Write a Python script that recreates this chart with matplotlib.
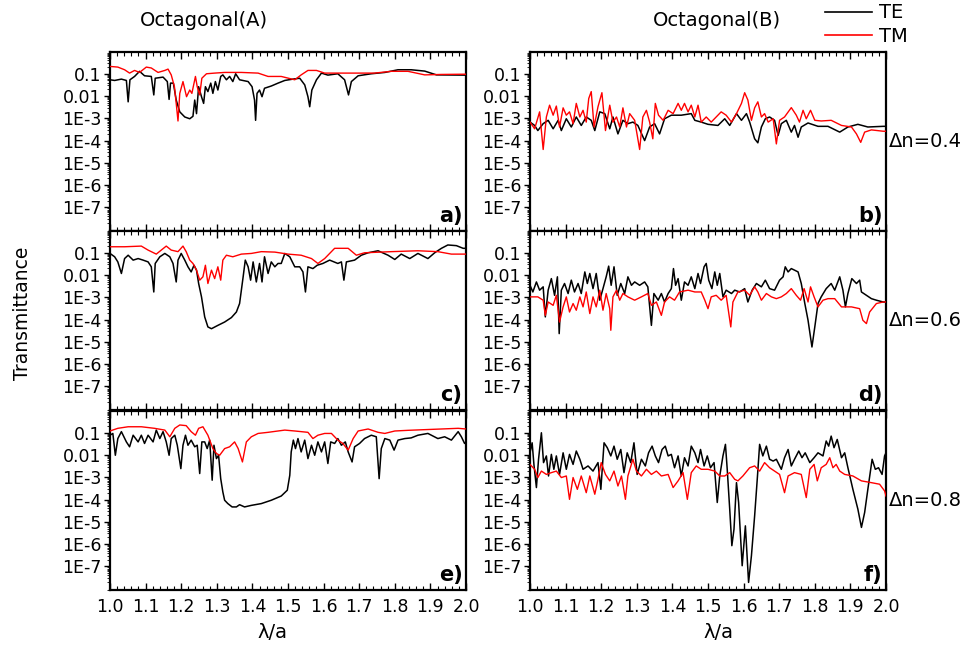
import numpy as np
import matplotlib
matplotlib.use("Agg")
import matplotlib.pyplot as plt
from matplotlib.lines import Line2D
from matplotlib.ticker import FixedLocator, FixedFormatter, LogLocator, MultipleLocator, NullFormatter

plt.rcParams['font.family'] = ['DejaVu Sans']

# ---------------- data (lambda/a, log10 transmittance) ----------------
# Panel a) Octagonal(A), dn=0.4
te_a_x = [1.000, 1.013, 1.032, 1.046, 1.051, 1.056, 1.069, 1.083, 1.097, 1.116, 1.123, 1.127, 1.149, 1.161, 1.166,
          1.170, 1.178, 1.186, 1.196, 1.210, 1.224, 1.233, 1.238, 1.243, 1.249, 1.257, 1.263, 1.268, 1.275, 1.283,
          1.289, 1.296, 1.303, 1.311, 1.317, 1.327, 1.336, 1.345, 1.353, 1.364, 1.388, 1.399, 1.406, 1.409, 1.413,
          1.420, 1.427, 1.434, 1.453, 1.472, 1.491, 1.514, 1.533, 1.547, 1.556, 1.561, 1.567, 1.580, 1.594, 1.612,
          1.640, 1.659, 1.670, 1.678, 1.697, 1.734, 1.772, 1.809, 1.846, 1.884, 1.917, 1.992, 2.000]
te_a_log = [-1.27, -1.30, -1.24, -1.30, -2.26, -1.27, -1.12, -0.89, -1.09, -1.12, -1.95, -1.20, -1.15, -1.35, -2.15,
            -1.42, -1.42, -2.18, -2.71, -2.94, -3.02, -2.91, -2.18, -2.79, -1.58, -2.03, -2.33, -1.58, -1.80, -1.42,
            -1.88, -1.35, -1.73, -1.12, -1.05, -1.27, -1.12, -1.35, -1.00, -1.27, -1.35, -1.58, -2.18, -3.09, -1.88,
            -1.73, -2.03, -1.65, -1.55, -1.42, -1.30, -1.24, -1.20, -1.50, -2.03, -2.48, -1.73, -1.27, -0.97, -1.06,
            -1.00, -1.27, -1.95, -1.35, -1.09, -1.00, -0.94, -0.82, -0.82, -0.88, -1.05, -1.06, -1.06]
tm_a_x = [1.000, 1.022, 1.041, 1.055, 1.069, 1.083, 1.102, 1.116, 1.135, 1.154, 1.163, 1.172, 1.181, 1.186, 1.191,
          1.196, 1.205, 1.215, 1.224, 1.230, 1.240, 1.245, 1.252, 1.258, 1.271, 1.294, 1.322, 1.369, 1.416, 1.444,
          1.481, 1.519, 1.537, 1.556, 1.580, 1.603, 1.650, 1.743, 1.790, 1.837, 1.884, 1.931, 1.992, 2.000]
tm_a_log = [-0.67, -0.70, -0.82, -0.97, -0.85, -0.94, -0.70, -0.74, -0.94, -0.85, -0.79, -1.05, -1.58, -2.33, -3.12,
            -1.88, -1.35, -2.03, -1.73, -1.88, -1.12, -1.58, -1.95, -1.20, -1.00, -0.97, -0.94, -0.94, -0.97, -1.12,
            -1.12, -1.27, -1.05, -0.85, -0.85, -0.97, -0.97, -0.97, -0.89, -0.89, -1.05, -1.03, -1.02, -1.02]

# Panel b) Octagonal(B), dn=0.4
te_b_x = [1.000, 1.013, 1.022, 1.037, 1.051, 1.065, 1.079, 1.088, 1.102, 1.116, 1.130, 1.144, 1.158, 1.172, 1.182,
          1.196, 1.210, 1.224, 1.233, 1.247, 1.261, 1.275, 1.289, 1.303, 1.322, 1.336, 1.350, 1.364, 1.378, 1.397,
          1.425, 1.453, 1.463, 1.481, 1.500, 1.528, 1.547, 1.561, 1.580, 1.594, 1.608, 1.617, 1.631, 1.640, 1.650,
          1.661, 1.673, 1.687, 1.697, 1.706, 1.720, 1.734, 1.743, 1.753, 1.762, 1.781, 1.809, 1.837, 1.870, 1.893,
          1.921, 1.949, 1.992, 2.000]
te_b_log = [-3.17, -3.32, -3.55, -3.24, -3.09, -3.47, -3.09, -3.55, -3.02, -3.39, -2.94, -3.32, -2.94, -3.09, -3.55,
            -2.71, -2.79, -3.47, -2.94, -3.70, -3.09, -3.24, -3.17, -3.32, -4.00, -3.39, -3.24, -3.70, -3.02, -2.86,
            -2.86, -2.79, -3.09, -3.17, -3.27, -3.32, -3.02, -3.32, -2.79, -3.09, -2.79, -3.17, -3.92, -4.10, -3.39,
            -3.02, -2.94, -3.09, -3.77, -3.24, -3.09, -3.62, -3.32, -3.85, -3.39, -3.21, -3.36, -3.36, -3.62, -3.39,
            -3.27, -3.39, -3.36, -3.36]
tm_b_x = [1.000, 1.013, 1.027, 1.037, 1.046, 1.055, 1.065, 1.074, 1.083, 1.093, 1.102, 1.111, 1.121, 1.130, 1.140,
          1.149, 1.158, 1.165, 1.172, 1.180, 1.191, 1.202, 1.212, 1.224, 1.233, 1.243, 1.252, 1.261, 1.271, 1.280,
          1.294, 1.308, 1.317, 1.327, 1.336, 1.345, 1.352, 1.361, 1.374, 1.388, 1.402, 1.416, 1.425, 1.434, 1.444,
          1.453, 1.463, 1.472, 1.481, 1.495, 1.509, 1.523, 1.537, 1.551, 1.566, 1.580, 1.594, 1.603, 1.612, 1.622,
          1.631, 1.640, 1.650, 1.659, 1.669, 1.683, 1.692, 1.701, 1.715, 1.734, 1.748, 1.757, 1.767, 1.776, 1.788,
          1.800, 1.818, 1.846, 1.875, 1.903, 1.917, 1.929, 1.940, 1.959, 1.992, 2.000]
tm_b_log = [-3.17, -3.47, -2.71, -4.40, -2.94, -2.41, -2.86, -2.45, -3.39, -2.53, -2.86, -2.71, -3.24, -2.33, -2.94,
            -2.64, -3.17, -2.11, -1.80, -3.39, -2.48, -1.85, -3.55, -2.41, -3.17, -2.94, -3.39, -2.53, -3.39, -2.79,
            -3.09, -4.40, -2.94, -2.64, -3.17, -3.92, -2.33, -2.86, -3.09, -2.64, -2.79, -2.33, -2.64, -2.33, -2.71,
            -2.41, -2.94, -2.41, -3.17, -2.94, -3.17, -2.94, -2.71, -2.86, -3.17, -2.79, -2.33, -1.85, -2.18, -3.09,
            -2.53, -2.26, -2.94, -2.79, -3.17, -3.02, -4.15, -3.09, -2.94, -2.52, -2.86, -3.17, -2.64, -3.02, -2.64,
            -3.09, -3.12, -3.09, -3.32, -3.39, -3.70, -4.08, -3.62, -3.52, -3.58, -3.58]

# Panel c) Octagonal(A), dn=0.6
te_c_x = [1.000, 1.013, 1.022, 1.032, 1.041, 1.051, 1.065, 1.079, 1.093, 1.107, 1.116, 1.123, 1.127, 1.140, 1.154,
          1.168, 1.177, 1.186, 1.191, 1.200, 1.210, 1.219, 1.228, 1.236, 1.243, 1.249, 1.257, 1.266, 1.275, 1.285,
          1.303, 1.322, 1.341, 1.355, 1.364, 1.374, 1.380, 1.388, 1.395, 1.402, 1.411, 1.420, 1.427, 1.434, 1.444,
          1.453, 1.463, 1.472, 1.481, 1.491, 1.505, 1.519, 1.533, 1.542, 1.549, 1.556, 1.570, 1.582, 1.598, 1.617,
          1.640, 1.650, 1.657, 1.664, 1.687, 1.706, 1.725, 1.753, 1.781, 1.800, 1.818, 1.842, 1.865, 1.893, 1.912,
          1.931, 1.949, 1.973, 1.992, 2.000]
te_c_log = [-1.03, -1.18, -1.41, -1.93, -1.26, -1.11, -1.33, -1.26, -1.33, -1.41, -1.63, -2.76, -1.48, -1.18, -1.03,
            -1.18, -1.48, -2.31, -1.33, -1.03, -1.33, -1.63, -1.86, -1.56, -1.78, -2.38, -2.98, -3.88, -4.33, -4.41,
            -4.26, -4.11, -3.91, -3.66, -3.28, -2.08, -1.33, -1.63, -2.23, -1.41, -2.31, -1.48, -2.31, -1.18, -1.93,
            -1.41, -1.63, -1.48, -1.48, -1.03, -1.18, -1.63, -1.63, -1.86, -2.76, -1.63, -1.71, -1.56, -1.48, -1.33,
            -1.48, -1.41, -2.23, -1.41, -1.33, -1.11, -1.00, -0.91, -1.11, -1.30, -1.06, -1.26, -1.03, -1.26, -1.00,
            -0.80, -0.65, -0.68, -0.80, -0.80]
tm_c_x = [1.000, 1.041, 1.088, 1.107, 1.130, 1.144, 1.158, 1.172, 1.191, 1.205, 1.214, 1.224, 1.233, 1.243, 1.252,
          1.261, 1.268, 1.275, 1.285, 1.294, 1.303, 1.311, 1.317, 1.327, 1.345, 1.369, 1.397, 1.425, 1.463, 1.500,
          1.537, 1.566, 1.584, 1.603, 1.631, 1.669, 1.692, 1.715, 1.790, 1.865, 1.921, 1.959, 1.992, 2.000]
tm_c_log = [-0.73, -0.73, -0.70, -0.88, -1.06, -0.88, -0.70, -0.88, -0.95, -0.70, -0.95, -1.33, -1.48, -1.78, -2.23,
            -2.08, -1.56, -2.38, -1.78, -2.16, -1.63, -2.23, -1.33, -1.11, -1.18, -1.06, -1.03, -0.95, -0.97, -1.06,
            -1.11, -1.26, -1.48, -1.26, -0.80, -0.80, -1.11, -1.00, -0.95, -0.91, -0.95, -1.06, -1.06, -1.06]

# Panel d) Octagonal(B), dn=0.6
te_d_x = [1.000, 1.008, 1.018, 1.027, 1.037, 1.043, 1.051, 1.060, 1.069, 1.077, 1.082, 1.088, 1.097, 1.107, 1.116,
          1.125, 1.135, 1.144, 1.154, 1.161, 1.168, 1.177, 1.186, 1.196, 1.205, 1.214, 1.221, 1.228, 1.236, 1.245,
          1.255, 1.266, 1.275, 1.285, 1.294, 1.308, 1.322, 1.331, 1.341, 1.348, 1.360, 1.369, 1.378, 1.388, 1.397,
          1.403, 1.409, 1.416, 1.425, 1.434, 1.444, 1.453, 1.463, 1.472, 1.479, 1.489, 1.495, 1.502, 1.511, 1.519,
          1.526, 1.533, 1.542, 1.551, 1.566, 1.575, 1.589, 1.603, 1.612, 1.624, 1.636, 1.650, 1.661, 1.673, 1.687,
          1.701, 1.711, 1.717, 1.725, 1.734, 1.743, 1.753, 1.762, 1.772, 1.781, 1.792, 1.800, 1.809, 1.818, 1.832,
          1.846, 1.856, 1.870, 1.879, 1.886, 1.893, 1.904, 1.917, 1.926, 1.931, 1.945, 1.959, 1.973, 1.992, 2.000]
te_d_log = [-2.46, -2.76, -2.31, -2.68, -2.53, -3.88, -2.68, -2.16, -2.91, -2.08, -4.63, -2.68, -2.38, -2.83, -2.23,
            -2.76, -2.38, -2.83, -1.86, -2.38, -1.93, -2.61, -1.93, -3.13, -2.61, -2.08, -1.60, -2.46, -1.63, -2.91,
            -2.38, -2.83, -2.08, -2.46, -2.31, -2.46, -2.31, -2.53, -4.26, -2.83, -3.13, -2.83, -3.21, -2.83, -2.61,
            -1.71, -2.46, -2.16, -3.13, -2.31, -2.46, -2.08, -2.61, -1.93, -2.38, -1.63, -1.48, -2.23, -2.61, -1.86,
            -2.46, -1.93, -2.98, -2.68, -2.83, -2.68, -2.76, -2.61, -3.21, -2.68, -2.38, -2.53, -2.23, -2.61, -2.68,
            -2.23, -2.08, -1.63, -1.86, -1.71, -1.78, -1.86, -2.38, -3.28, -4.03, -5.23, -4.33, -3.28, -2.98, -2.61,
            -2.38, -2.68, -2.08, -2.68, -3.43, -2.83, -2.16, -2.38, -2.23, -2.76, -2.91, -3.06, -3.13, -3.21, -3.21]
tm_d_x = [1.000, 1.022, 1.037, 1.043, 1.051, 1.065, 1.074, 1.083, 1.093, 1.102, 1.111, 1.121, 1.130, 1.140, 1.149,
          1.158, 1.168, 1.177, 1.186, 1.196, 1.205, 1.214, 1.224, 1.227, 1.233, 1.243, 1.252, 1.261, 1.275, 1.294,
          1.313, 1.331, 1.341, 1.355, 1.369, 1.378, 1.392, 1.406, 1.420, 1.444, 1.463, 1.481, 1.491, 1.500, 1.509,
          1.523, 1.537, 1.551, 1.564, 1.570, 1.584, 1.603, 1.617, 1.631, 1.640, 1.650, 1.664, 1.678, 1.692, 1.706,
          1.720, 1.734, 1.748, 1.760, 1.770, 1.781, 1.788, 1.798, 1.809, 1.823, 1.837, 1.856, 1.875, 1.903, 1.926,
          1.935, 1.945, 1.954, 1.973, 1.992, 2.000]
tm_d_log = [-2.98, -2.98, -3.13, -3.81, -3.21, -3.36, -2.91, -4.11, -3.43, -2.98, -3.66, -3.28, -3.58, -2.98, -3.43,
            -2.76, -3.73, -2.98, -3.43, -2.68, -3.58, -2.83, -3.51, -4.48, -2.98, -2.68, -3.13, -2.83, -2.98, -3.13,
            -2.98, -2.83, -3.36, -3.21, -3.81, -3.21, -2.98, -3.13, -2.76, -2.68, -2.76, -2.76, -3.13, -3.51, -2.98,
            -2.91, -3.13, -2.91, -4.33, -3.21, -2.76, -2.68, -2.91, -2.53, -2.76, -3.13, -2.83, -2.98, -3.06, -2.98,
            -2.83, -2.61, -2.91, -3.13, -2.61, -3.21, -2.53, -2.98, -3.43, -3.13, -3.06, -3.06, -3.43, -3.43, -3.51,
            -4.03, -4.18, -3.66, -3.28, -3.21, -3.21]

# Panel e) Octagonal(A), dn=0.8
te_e_x = [1.000, 1.008, 1.015, 1.022, 1.032, 1.046, 1.055, 1.065, 1.079, 1.088, 1.097, 1.107, 1.121, 1.130, 1.140,
          1.149, 1.158, 1.166, 1.172, 1.182, 1.189, 1.199, 1.205, 1.212, 1.219, 1.228, 1.238, 1.245, 1.252, 1.258,
          1.266, 1.273, 1.280, 1.287, 1.292, 1.299, 1.305, 1.311, 1.317, 1.322, 1.331, 1.343, 1.355, 1.364, 1.378,
          1.397, 1.425, 1.453, 1.481, 1.498, 1.505, 1.509, 1.515, 1.521, 1.528, 1.537, 1.547, 1.556, 1.566, 1.575,
          1.584, 1.594, 1.603, 1.612, 1.620, 1.631, 1.640, 1.650, 1.661, 1.669, 1.680, 1.687, 1.701, 1.715, 1.734,
          1.748, 1.756, 1.762, 1.772, 1.786, 1.798, 1.809, 1.828, 1.846, 1.865, 1.893, 1.921, 1.940, 1.959, 1.978,
          1.987, 1.996, 2.000]
te_e_log = [-1.11, -1.03, -2.01, -1.26, -0.95, -1.41, -1.63, -1.11, -1.41, -1.11, -1.48, -1.11, -1.41, -0.88, -1.26,
            -0.95, -1.41, -2.01, -1.26, -1.11, -1.56, -2.61, -1.56, -1.11, -1.56, -1.33, -1.63, -1.56, -2.83, -1.41,
            -1.41, -1.71, -1.33, -3.13, -1.56, -2.16, -2.01, -3.06, -3.66, -4.03, -4.18, -4.33, -4.33, -4.23, -4.33,
            -4.26, -4.18, -4.03, -3.84, -3.58, -2.91, -1.86, -1.33, -1.71, -1.26, -1.86, -1.33, -2.16, -1.56, -2.01,
            -1.41, -1.86, -1.41, -2.38, -1.41, -1.48, -1.26, -1.56, -1.41, -1.86, -2.31, -1.63, -1.48, -1.26, -1.11,
            -1.18, -3.06, -1.71, -1.26, -1.33, -1.78, -1.33, -1.26, -1.23, -1.11, -1.03, -1.26, -1.18, -1.33, -0.95,
            -1.18, -1.48, -1.41]
tm_e_x = [1.000, 1.022, 1.051, 1.088, 1.125, 1.154, 1.168, 1.182, 1.196, 1.214, 1.228, 1.240, 1.249, 1.261, 1.275,
          1.289, 1.299, 1.308, 1.322, 1.336, 1.350, 1.360, 1.372, 1.383, 1.397, 1.416, 1.444, 1.472, 1.491, 1.519,
          1.556, 1.570, 1.584, 1.603, 1.622, 1.640, 1.654, 1.669, 1.683, 1.697, 1.725, 1.753, 1.772, 1.800, 1.837,
          1.884, 1.931, 1.978, 2.000]
tm_e_log = [-0.92, -0.80, -0.73, -0.73, -0.80, -0.88, -1.18, -0.80, -0.65, -0.68, -0.95, -1.11, -0.80, -0.73, -1.11,
            -1.71, -1.93, -2.01, -1.71, -1.63, -1.41, -1.71, -2.31, -1.41, -1.18, -1.03, -0.98, -0.92, -0.88, -0.92,
            -0.98, -1.26, -1.11, -1.03, -1.03, -1.33, -1.48, -1.78, -1.26, -0.92, -0.83, -0.98, -1.03, -0.92, -0.89,
            -0.86, -0.83, -0.80, -0.83]

# Panel f) Octagonal(B), dn=0.8
te_f_x = [1.000, 1.006, 1.011, 1.018, 1.024, 1.032, 1.038, 1.046, 1.052, 1.060, 1.067, 1.074, 1.083, 1.093, 1.102,
          1.111, 1.121, 1.130, 1.140, 1.149, 1.163, 1.177, 1.191, 1.199, 1.208, 1.217, 1.227, 1.236, 1.245, 1.255,
          1.264, 1.273, 1.283, 1.292, 1.301, 1.313, 1.324, 1.333, 1.343, 1.352, 1.361, 1.371, 1.380, 1.388, 1.397,
          1.406, 1.416, 1.425, 1.434, 1.444, 1.453, 1.463, 1.472, 1.479, 1.489, 1.498, 1.507, 1.517, 1.526, 1.533,
          1.542, 1.549, 1.554, 1.561, 1.567, 1.573, 1.580, 1.586, 1.596, 1.605, 1.614, 1.622, 1.631, 1.639, 1.645,
          1.654, 1.664, 1.673, 1.683, 1.692, 1.706, 1.715, 1.725, 1.734, 1.743, 1.755, 1.764, 1.773, 1.786, 1.798,
          1.809, 1.823, 1.832, 1.839, 1.846, 1.854, 1.863, 1.875, 1.884, 1.893, 1.907, 1.921, 1.931, 1.940, 1.949,
          1.961, 1.970, 1.979, 1.989, 1.996, 2.000]
te_f_log = [-1.90, -1.45, -2.42, -3.46, -2.19, -1.00, -2.34, -2.04, -2.94, -1.97, -2.64, -2.04, -2.87, -1.90, -2.64,
            -1.97, -2.42, -1.82, -2.19, -2.64, -2.49, -2.72, -2.34, -3.54, -1.45, -1.67, -2.04, -1.60, -2.19, -1.75,
            -2.79, -1.90, -2.34, -1.45, -2.87, -2.19, -2.49, -1.90, -1.60, -2.04, -2.34, -1.75, -1.60, -2.04, -1.97,
            -2.57, -2.04, -2.94, -2.12, -2.49, -1.60, -1.90, -2.34, -1.75, -2.49, -2.04, -2.57, -2.34, -4.13, -2.94,
            -2.04, -1.52, -2.64, -4.43, -6.07, -5.33, -3.24, -4.13, -6.97, -5.18, -7.72, -6.52, -4.73, -2.94, -1.52,
            -2.04, -1.60, -2.19, -2.27, -2.19, -2.64, -2.12, -1.75, -2.49, -2.19, -1.82, -2.12, -1.90, -2.34, -2.12,
            -1.90, -2.04, -1.37, -1.60, -1.15, -1.67, -1.30, -2.12, -1.90, -2.57, -3.54, -4.43, -5.25, -4.58, -3.54,
            -2.19, -2.64, -2.57, -2.87, -2.04, -1.90]
tm_f_x = [1.000, 1.013, 1.022, 1.032, 1.046, 1.060, 1.074, 1.088, 1.102, 1.111, 1.121, 1.133, 1.144, 1.158, 1.168,
          1.182, 1.191, 1.200, 1.212, 1.224, 1.236, 1.247, 1.257, 1.268, 1.275, 1.289, 1.299, 1.313, 1.327, 1.341,
          1.355, 1.369, 1.388, 1.402, 1.416, 1.430, 1.442, 1.453, 1.467, 1.481, 1.500, 1.519, 1.533, 1.547, 1.561,
          1.575, 1.584, 1.598, 1.617, 1.631, 1.645, 1.659, 1.673, 1.687, 1.701, 1.715, 1.725, 1.743, 1.762, 1.776,
          1.786, 1.798, 1.807, 1.818, 1.832, 1.842, 1.851, 1.860, 1.870, 1.884, 1.907, 1.931, 1.959, 1.982, 1.996,
          2.000]
tm_f_log = [-2.42, -2.64, -3.01, -2.72, -2.87, -2.79, -2.72, -3.01, -2.94, -3.99, -3.01, -3.54, -2.94, -3.69, -2.94,
            -3.76, -3.09, -2.34, -2.87, -3.16, -2.72, -3.39, -2.94, -3.99, -2.94, -2.19, -2.72, -2.94, -2.64, -2.87,
            -2.72, -2.94, -2.87, -3.46, -3.16, -2.79, -3.99, -2.79, -2.49, -2.64, -2.64, -2.72, -2.94, -2.94, -2.79,
            -3.09, -3.16, -2.94, -2.57, -2.49, -2.72, -2.34, -2.57, -2.72, -2.87, -3.69, -2.94, -2.79, -2.87, -3.91,
            -2.64, -2.42, -3.16, -2.57, -2.42, -2.12, -2.57, -2.42, -2.72, -2.87, -2.94, -3.16, -3.24, -3.31, -3.61,
            -3.84]

panels = [
    ("a)", te_a_x, te_a_log, tm_a_x, tm_a_log),
    ("b)", te_b_x, te_b_log, tm_b_x, tm_b_log),
    ("c)", te_c_x, te_c_log, tm_c_x, tm_c_log),
    ("d)", te_d_x, te_d_log, tm_d_x, tm_d_log),
    ("e)", te_e_x, te_e_log, tm_e_x, tm_e_log),
    ("f)", te_f_x, te_f_log, tm_f_x, tm_f_log),
]
delta_n_labels = ["\u0394n=0.4", "\u0394n=0.6", "\u0394n=0.8"]
column_titles = ["Octagonal(A)", "Octagonal(B)"]
ytick_values = [1e-1, 1e-2, 1e-3, 1e-4, 1e-5, 1e-6, 1e-7]
ytick_labels = ["0.1", "0.01", "1E-3", "1E-4", "1E-5", "1E-6", "1E-7"]
xtick_values = [1.0, 1.1, 1.2, 1.3, 1.4, 1.5, 1.6, 1.7, 1.8, 1.9, 2.0]
xtick_labels = ["1.0", "1.1", "1.2", "1.3", "1.4", "1.5", "1.6", "1.7", "1.8", "1.9", "2.0"]

# ---------------- figure ----------------
W, H = 973, 647
fig = plt.figure(figsize=(W / 100, H / 100), dpi=100)
col_x = [110 / W, 530 / W]
ax_w = 356 / W
row_b = [1 - 231 / H, 1 - 410 / H, 1 - 590 / H]
ax_h = 179.5 / H

for i, (lab, tex, tey, tmx, tmy) in enumerate(panels):
    r, c = divmod(i, 2)
    ax = fig.add_axes([col_x[c], row_b[r], ax_w, ax_h])
    ax.plot(tex, 10.0 ** np.array(tey), color='black', lw=1.1, zorder=2)
    ax.plot(tmx, 10.0 ** np.array(tmy), color='#ff0000', lw=1.0, zorder=3)
    ax.set_yscale('log')
    ax.set_xlim(1.0, 2.0)
    ax.set_ylim(10 ** -8.06, 1.0)
    ax.yaxis.set_major_locator(FixedLocator(ytick_values))
    ax.yaxis.set_major_formatter(FixedFormatter(ytick_labels))
    ax.yaxis.set_minor_locator(LogLocator(base=10, subs=np.arange(2, 10), numticks=20))
    ax.yaxis.set_minor_formatter(NullFormatter())
    ax.xaxis.set_major_locator(FixedLocator(xtick_values))
    ax.xaxis.set_minor_locator(MultipleLocator(0.02))
    if r == 2:
        ax.xaxis.set_major_formatter(FixedFormatter(xtick_labels))
    else:
        ax.set_xticklabels([])
    ax.tick_params(axis='x', which='both', direction='in', top=True, bottom=True, labelsize=12.5, pad=6)
    ax.tick_params(axis='x', which='major', length=5, width=1.0)
    ax.tick_params(axis='x', which='minor', length=3, width=0.8)
    ax.tick_params(axis='y', which='both', direction='out', left=True, right=False, labelsize=12.5, pad=2)
    ax.tick_params(axis='y', which='major', length=4, width=1.0)
    ax.tick_params(axis='y', which='minor', length=2, width=0.6)
    for s in ax.spines.values():
        s.set_linewidth(1.6)
    ax.text(0.99, 0.03, lab, transform=ax.transAxes, ha='right', va='bottom',
            fontsize=15, fontweight='bold')
    if c == 1:
        ax.text(1.008, 0.5, delta_n_labels[r], transform=ax.transAxes, ha='left', va='center',
                fontsize=14)

fig.text(204 / W, 1 - 20 / H, column_titles[0], ha='center', va='center', fontsize=14)
fig.text(717 / W, 1 - 20 / H, column_titles[1], ha='center', va='center', fontsize=14)
fig.text(23 / W, 1 - 313 / H, "Transmittance", rotation=90, ha='center', va='center', fontsize=13.5)
fig.text(272 / W, 1 - 633 / H, "\u03bb/a", ha='center', va='center', fontsize=14)
fig.text(718 / W, 1 - 633 / H, "\u03bb/a", ha='center', va='center', fontsize=14)

# legend (drawn as in the original: short line + label at top right)
fig.add_artist(Line2D([825 / W, 872 / W], [1 - 12 / H, 1 - 12 / H], color='black', lw=1.2))
fig.add_artist(Line2D([825 / W, 872 / W], [1 - 35 / H, 1 - 35 / H], color='#ff0000', lw=1.2))
fig.text(879 / W, 1 - 12 / H, "TE", ha='left', va='center', fontsize=14)
fig.text(879 / W, 1 - 37 / H, "TM", ha='left', va='center', fontsize=14)

fig.savefig("out.png", dpi=100)
